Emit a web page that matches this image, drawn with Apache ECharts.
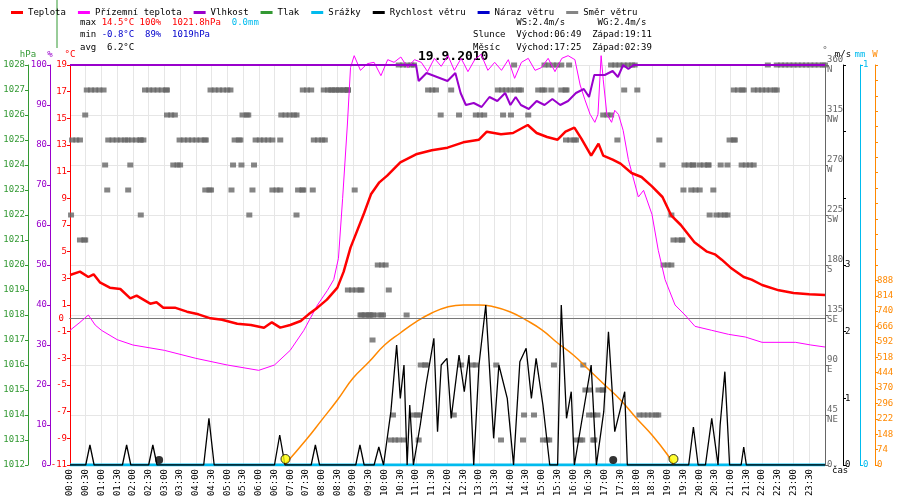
<!DOCTYPE html>
<html>
<head>
<meta charset="utf-8">
<script src="https://cdn.jsdelivr.net/npm/echarts@6/dist/echarts.min.js"></script>
<style>
  html, body { margin: 0; padding: 0; background: #fff; }
  #chart { width: 900px; height: 500px; }
</style>
</head>
<body>
<div id="chart"></div>
<script>
// ==================== data (time in minutes from 00:00)
const temperature = [
  [0, 3.25], [19, 3.5], [35, 3.1], [45, 3.3], [57, 2.7], [76, 2.3], [96, 2.2], [115, 1.5], [127, 1.7],
  [153, 1.1], [165, 1.2], [178, 0.8], [200, 0.8], [223, 0.5], [245, 0.3], [268, 0.0], [290, -0.1],
  [319, -0.4], [345, -0.5], [370, -0.7], [385, -0.3], [401, -0.7], [420, -0.5], [440, -0.2],
  [455, 0.3], [472, 0.8], [490, 1.4], [510, 2.3], [522, 3.5], [535, 5.3], [548, 6.6], [561, 7.9],
  [574, 9.3], [590, 10.2], [605, 10.7], [630, 11.7], [660, 12.3], [690, 12.6], [720, 12.8],
  [750, 13.2], [780, 13.4], [795, 14.0], [822, 13.8], [845, 13.9], [873, 14.5], [890, 13.9],
  [910, 13.6], [930, 13.4], [945, 14.0], [962, 14.3], [975, 13.5], [994, 12.2], [1008, 13.1],
  [1017, 12.2], [1035, 11.9], [1050, 11.6], [1071, 10.9], [1090, 10.6], [1110, 9.9], [1130, 9.1],
  [1147, 7.7], [1165, 7.0], [1191, 5.7], [1215, 5.0], [1230, 4.8], [1243, 4.4], [1260, 3.8],
  [1285, 3.1], [1300, 2.9], [1320, 2.5], [1352, 2.1], [1380, 1.9], [1410, 1.8], [1440, 1.75]
];
const feelsLike = [
  [0, -0.9], [19, -0.3], [35, 0.25], [48, -0.5], [60, -0.9], [90, -1.6], [120, -2.0], [180, -2.4],
  [240, -3.0], [300, -3.5], [360, -3.9], [390, -3.5], [420, -2.4], [446, -0.9], [472, 1.0], [491, 2.1],
  [503, 2.9], [512, 4.5], [520, 9.0], [529, 14.5], [535, 18.8], [542, 19.7], [554, 18.6],
  [567, 19.1], [580, 19.2], [593, 18.2], [606, 19.4], [618, 19.2], [631, 19.6], [644, 18.8], [657, 19.4],
  [670, 19.2], [682, 18.5], [695, 19.5], [708, 18.9], [721, 19.7], [733, 18.6], [746, 19.5], [759, 18.5],
  [772, 19.4], [784, 19.8], [797, 18.6], [810, 19.2], [823, 18.6], [836, 19.4], [848, 18.0], [861, 19.2],
  [874, 19.5], [887, 18.6], [899, 18.8], [912, 19.5], [925, 18.5], [938, 19.5], [950, 19.7], [963, 19.4],
  [973, 17.5], [982, 16.4], [992, 15.3], [1001, 14.7], [1007, 15.3], [1013, 19.7], [1017, 17.9],
  [1024, 15.3], [1033, 14.7], [1039, 15.6], [1046, 15.3], [1055, 14.1], [1065, 11.9], [1084, 9.1],
  [1094, 9.6], [1110, 7.8], [1122, 5.1], [1135, 2.9], [1154, 1.0], [1173, 0.25], [1192, -0.6],
  [1224, -0.9], [1256, -1.2], [1288, -1.4], [1320, -1.8], [1384, -1.8], [1413, -2.0], [1440, -2.15]
];
const humidity = [
  [0, 100], [660, 100], [665, 96], [680, 98], [700, 97], [720, 96], [735, 98], [745, 93], [755, 90],
  [770, 90.5], [785, 89.5], [800, 92], [815, 91], [830, 93], [840, 90], [850, 92], [860, 90], [875, 89],
  [890, 91], [905, 90], [920, 91.5], [935, 90], [950, 91], [965, 93], [980, 94], [990, 92], [1000, 97.5],
  [1020, 97.5], [1035, 98.5], [1045, 97], [1055, 100], [1065, 99], [1075, 100], [1440, 100]
];
const windSpeed = [
  [0, 0], [30, 0], [38, 0.3], [46, 0], [100, 0], [108, 0.3], [116, 0], [150, 0], [158, 0.3], [166, 0],
  [255, 0], [265, 0.7], [275, 0], [390, 0], [400, 0.45], [410, 0], [460, 0], [468, 0.3], [476, 0],
  [545, 0], [553, 0.3], [561, 0], [580, 0], [589, 0.27], [598, 0], [612, 0.8], [623, 1.8], [630, 1.0],
  [637, 1.5], [643, 0], [648, 0.9], [655, 0], [668, 0.6], [679, 1.2], [694, 1.9], [701, 0.5],
  [708, 1.5], [719, 1.6], [727, 0.7], [742, 1.65], [752, 1.1], [761, 1.65], [770, 0], [780, 1.5],
  [793, 2.4], [808, 0.4], [818, 1.5], [834, 1.0], [846, 0], [858, 1.55], [870, 1.75], [880, 1.0],
  [889, 1.6], [902, 0.9], [915, 0], [930, 0], [937, 2.4], [947, 0.7], [956, 1.1], [962, 0], [978, 0.75],
  [994, 1.5], [1004, 0], [1018, 0.8], [1027, 2.0], [1039, 0.5], [1058, 1.1], [1063, 0], [1180, 0],
  [1189, 0.57], [1198, 0], [1212, 0], [1224, 0.7], [1236, 0], [1240, 0.6], [1249, 1.4], [1258, 0],
  [1280, 0], [1285, 0.27], [1290, 0], [1440, 0]
];
const solar = [
  [409, 0], [450, 120], [480, 216], [510, 313], [540, 418], [570, 495], [600, 577], [630, 635],
  [660, 688], [690, 731], [720, 760], [750, 770], [780, 770], [810, 760], [840, 736], [870, 697],
  [900, 650], [930, 587], [960, 529], [990, 457], [1020, 385], [1050, 313], [1080, 226], [1110, 144],
  [1140, 48], [1151, 0]
];
const rain = [[0, 0], [1440, 0]];
// wind direction runs: [from, to, degrees]
const windDirRuns = [
  [32, 64, 337.5], [143, 185, 337.5], [268, 306, 337.5], [444, 460, 337.5], [484, 530, 337.5],
  [29, 29, 315], [185, 200, 315], [329, 340, 315], [403, 432, 315],
  [4, 19, 292.5], [73, 110, 292.5], [118, 135, 292.5], [140, 140, 292.5], [209, 259, 292.5],
  [314, 325, 292.5], [354, 386, 292.5], [401, 401, 292.5], [465, 486, 292.5],
  [67, 67, 270], [115, 115, 270], [197, 210, 270], [311, 311, 270], [327, 327, 270], [351, 351, 270],
  [71, 71, 247.5], [111, 111, 247.5], [258, 269, 247.5], [308, 308, 247.5], [348, 348, 247.5],
  [386, 401, 247.5], [435, 445, 247.5], [463, 463, 247.5], [543, 543, 247.5],
  [2, 2, 225], [135, 135, 225], [342, 342, 225], [432, 432, 225], [19, 29, 202.5],
  [530, 556, 157.5], [556, 574, 135], [554, 597, 135], [642, 642, 135], [608, 608, 157.5],
  [577, 577, 112.5], [587, 602, 180],
  [627, 656, 360], [847, 847, 360], [905, 937, 360], [952, 952, 360], [1032, 1077, 360],
  [1331, 1331, 360], [1348, 1440, 360],
  [497, 530, 337.5], [683, 698, 337.5], [727, 727, 337.5], [816, 860, 337.5], [893, 905, 337.5],
  [918, 918, 337.5], [937, 947, 337.5], [1057, 1057, 337.5], [1082, 1082, 337.5],
  [1266, 1285, 337.5], [1304, 1348, 337.5],
  [707, 707, 315], [742, 742, 315], [774, 790, 315], [826, 826, 315], [841, 841, 315], [874, 874, 315],
  [1017, 1032, 315],
  [946, 965, 292.5], [1044, 1044, 292.5], [1124, 1124, 292.5], [1258, 1268, 292.5],
  [1130, 1130, 270], [1172, 1189, 270], [1201, 1218, 270], [1241, 1241, 270], [1254, 1254, 270],
  [1281, 1304, 270],
  [1170, 1170, 247.5], [1185, 1201, 247.5], [1227, 1227, 247.5],
  [1147, 1147, 225], [1220, 1220, 225], [1233, 1233, 225], [1241, 1254, 225],
  [1151, 1168, 202.5], [1132, 1147, 180],
  [669, 679, 90], [746, 746, 90], [768, 774, 90], [813, 813, 90], [923, 923, 90], [979, 979, 90],
  [983, 990, 67.5], [1008, 1017, 67.5],
  [616, 616, 45], [654, 665, 45], [732, 732, 45], [866, 866, 45], [885, 885, 45], [990, 1006, 45],
  [1086, 1122, 45],
  [612, 627, 22.5], [637, 637, 22.5], [665, 665, 22.5], [822, 822, 22.5], [864, 864, 22.5],
  [902, 914, 22.5], [965, 977, 22.5], [998, 1000, 22.5]
];
const sunMarks = [[411, 0], [1151, 0]];
const moonMarks = [[170, 0], [1036, 0]];
const compass = { 0: '0', 45: '45\nNE', 90: '90\nE', 135: '135\nSE', 180: '180\nS', 225: '225\nSW', 270: '270\nW', 315: '315\nNW', 360: '360\nN' };

const windDir = [];
windDirRuns.forEach(([a, b, d]) => {
  for (let t = a; t <= b; t += 8) windDir.push([t, d]);
  if ((b - a) % 8 !== 0) windDir.push([b, d]);
});

const font = 'DejaVu Sans Mono';
const pad = n => (n < 10 ? '0' : '') + n;
const yAx = (o) => Object.assign({
  type: 'value',
  splitLine: { show: false },
  axisLine: { show: true, lineStyle: { color: o.color, width: 1 } },
  axisTick: { show: true, length: 3, lineStyle: { color: o.color } },
  axisLabel: { color: o.color, fontFamily: font, fontSize: 9, margin: 3, formatter: v => String(v) },
  nameTextStyle: { color: o.color, fontFamily: font, fontSize: 9 },
  nameGap: 6,
}, o);

const chart = echarts.init(document.getElementById('chart'));
chart.setOption({
  animation: false,
  textStyle: { fontFamily: font },
  legend: {
    left: 6, top: 3, itemGap: 12, itemWidth: 12, itemHeight: 3, icon: 'rect',
    textStyle: { fontFamily: font, fontSize: 9, color: '#000' },
    data: ['Teplota', 'Přízemní teplota', 'Vlhkost', 'Tlak', 'Srážky', 'Rychlost větru', 'Náraz větru', 'Směr větru'],
  },
  grid: { left: 70, right: 75, top: 65, bottom: 35, outerBoundsMode: 'none', containLabel: false },
  xAxis: {
    type: 'value', min: 0, max: 1440, interval: 30,
    axisLine: { lineStyle: { color: '#000' } },
    axisTick: { show: false },
    splitLine: { show: true, lineStyle: { color: '#e6e6e6' } },
    axisLabel: {
      rotate: 90, fontFamily: font, fontSize: 9, color: '#000', margin: 4,
      formatter: v => (v >= 1440 ? '' : pad(Math.floor(v / 60)) + ':' + pad(v % 60)),
    },
  },
  yAxis: [
    yAx({ name: '°C', color: '#ff0000', min: -11, max: 19, interval: 2, position: 'left', offset: 0 }),
    yAx({ name: '%', color: '#9900cc', min: 0, max: 100, interval: 10, position: 'left', offset: 20 }),
    yAx({ name: 'hPa', color: '#339933', min: 1012, max: 1028, interval: 1, position: 'left', offset: 42 }),
    yAx({
      name: '°', color: '#666', min: 0, max: 360, interval: 45, position: 'right', offset: 0,
      splitLine: { show: true, lineStyle: { color: '#e6e6e6' } },
      axisLabel: { color: '#666', fontFamily: font, fontSize: 9, margin: 2, lineHeight: 10, formatter: v => compass[v] },
    }),
    yAx({
      name: 'm/s', color: '#000', min: 0, max: 6, interval: 1, position: 'right', offset: 18,
      axisLabel: { color: '#000', fontFamily: font, fontSize: 9, margin: 2, formatter: v => (v <= 3 ? String(v) : '') },
    }),
    yAx({ name: 'mm', color: '#00bbee', min: 0, max: 1, interval: 1, position: 'right', offset: 35 }),
    yAx({
      name: 'W', color: '#ff8800', min: 0, max: 1924, interval: 74, position: 'right', offset: 50,
      axisTick: { show: true, length: 3, lineStyle: { color: '#ff8800' }, interval: (i, v) => v <= 888 },
      axisLabel: { color: '#ff8800', fontFamily: font, fontSize: 9, margin: 2, formatter: v => (v <= 888 ? String(v) : '') },
    }),
  ],
  series: [
    { name: 'Srážky', type: 'line', yAxisIndex: 5, data: rain, symbol: 'none', color: '#00bbee', lineStyle: { width: 3 } },
    {
      name: 'Směr větru', type: 'scatter', yAxisIndex: 3, data: windDir, symbol: 'rect', symbolSize: [6, 5],
      color: '#666666', z: 3,
    },
    { name: 'Tlak', type: 'line', yAxisIndex: 2, data: [], color: '#339933' },
    { name: 'Náraz větru', type: 'line', yAxisIndex: 4, data: [], color: '#0000cc' },
    { name: 'Solar', type: 'line', yAxisIndex: 6, data: solar, symbol: 'none', smooth: true, color: '#ff8800', lineStyle: { width: 1.5 }, z: 4 },
    { name: 'Rychlost větru', type: 'line', yAxisIndex: 4, data: windSpeed, symbol: 'none', color: '#000', lineStyle: { width: 1.3 }, z: 5 },
    {
      name: 'Přízemní teplota', type: 'line', yAxisIndex: 0, data: feelsLike, symbol: 'none', clip: false,
      color: '#ff00ff', lineStyle: { width: 1 }, z: 6,
    },
    { name: 'Vlhkost', type: 'line', yAxisIndex: 1, data: humidity, symbol: 'none', color: '#9900cc', lineStyle: { width: 2 }, z: 7 },
    {
      name: 'Teplota', type: 'line', yAxisIndex: 0, data: temperature, symbol: 'none', color: '#ff0000', lineStyle: { width: 2.5 }, z: 8,
      markLine: {
        silent: true, symbol: 'none',
        lineStyle: { color: '#777', type: 'solid', width: 1 },
        label: { position: 'start', formatter: '0', color: '#ff0000', fontFamily: font, fontSize: 9, distance: 6 },
        data: [{ yAxis: 0 }],
      },
    },
    {
      name: 'Sun', type: 'scatter', yAxisIndex: 6, data: sunMarks, symbolSize: 9, symbolOffset: [0, -6],
      itemStyle: { color: '#ffff00', borderColor: '#000', borderWidth: 1 }, z: 9,
    },
    {
      name: 'Moon', type: 'scatter', yAxisIndex: 6, data: moonMarks, symbolSize: 8, symbolOffset: [0, -5],
      itemStyle: { color: '#000' }, z: 9,
    },
  ],
  graphic: [
    { type: 'line', shape: { x1: 57, y1: 0, x2: 57, y2: 48 }, style: { stroke: '#339933', lineWidth: 1 } },
    {
      type: 'text', left: 80, top: 16,
      style: {
        text: '{k|max} {r|14.5°C 100%  1021.8hPa}  {c|0.0mm}\n{k|min} {b|-0.8°C  89%  1019hPa}\n{k|avg  6.2°C}',
        lineHeight: 12.5, font: '9px ' + font,
        rich: {
          k: { fill: '#000', fontFamily: font, fontSize: 9, lineHeight: 12.5 },
          r: { fill: '#ff0000', fontFamily: font, fontSize: 9, lineHeight: 12.5 },
          b: { fill: '#0000cc', fontFamily: font, fontSize: 9, lineHeight: 12.5 },
          c: { fill: '#00bbee', fontFamily: font, fontSize: 9, lineHeight: 12.5 },
        },
      },
    },
    {
      type: 'text', left: 473, top: 16,
      style: { text: '        WS:2.4m/s      WG:2.4m/s\nSlunce  Východ:06:49  Západ:19:11\nMěsíc   Východ:17:25  Západ:02:39', font: '9px ' + font, lineHeight: 12.5, fill: '#000' },
    },
    { type: 'text', left: 418, top: 50, style: { text: '19.9.2010', font: 'bold 13px ' + font, fill: '#000' } },
    { type: 'text', left: 832, top: 466, style: { text: 'čas', font: '9px ' + font, fill: '#000' } },
  ],
});
</script>
</body>
</html>
